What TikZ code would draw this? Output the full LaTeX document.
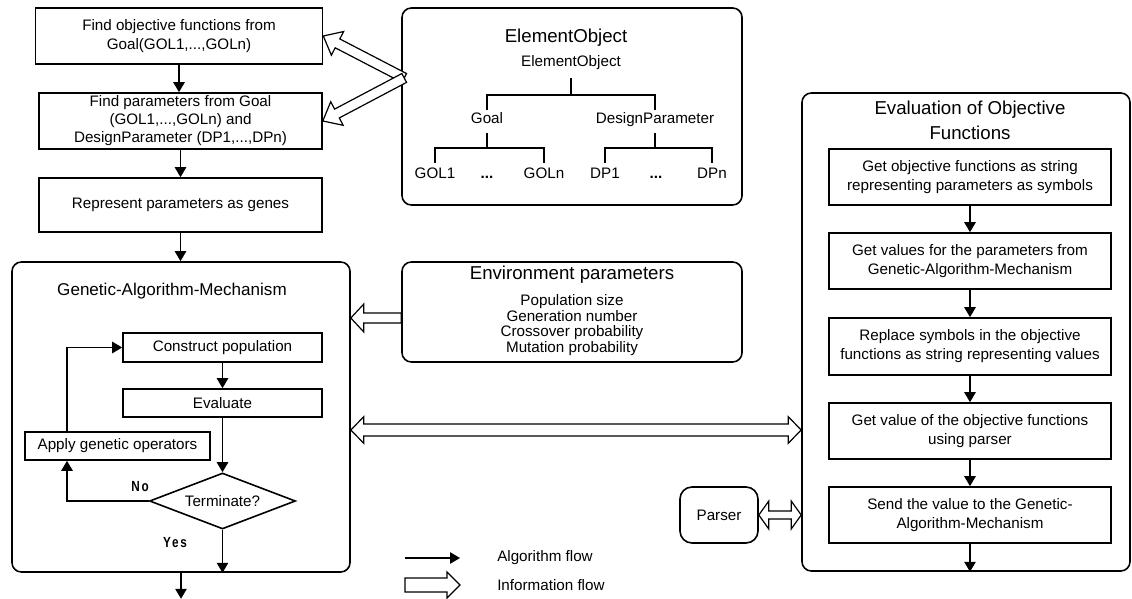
\documentclass[tikz,border=0pt]{standalone}
\usepackage{fontspec}
\setmainfont{Liberation Sans}
\newfontfamily\lblfont[FakeStretch=0.8,LetterSpace=12]{Liberation Sans}
\usetikzlibrary{arrows.meta,calc,shapes.geometric}

\newcommand{\hollowarrow}[5]{% start, tip, shaft half, head half, head length
  \coordinate (hA) at (#1);
  \coordinate (hT) at (#2);
  \coordinate (hH) at ($(hT)!#5!(hA)$);
  \draw[info] ($(hA)!#3!90:(hT)$) -- ($(hH)!#3!90:(hT)$) -- ($(hH)!#4!90:(hT)$) -- (hT)
    -- ($(hH)!#4!-90:(hT)$) -- ($(hH)!#3!-90:(hT)$) -- ($(hA)!#3!-90:(hT)$) -- cycle;
}
\newcommand{\hollowdarrow}[5]{% end, end, shaft half, head half, head length
  \coordinate (hA) at (#1);
  \coordinate (hT) at (#2);
  \coordinate (hH) at ($(hT)!#5!(hA)$);
  \coordinate (hG) at ($(hA)!#5!(hT)$);
  \draw[info] (hA) -- ($(hG)!#4!90:(hT)$) -- ($(hG)!#3!90:(hT)$) -- ($(hH)!#3!90:(hT)$)
    -- ($(hH)!#4!90:(hT)$) -- (hT) -- ($(hH)!#4!-90:(hT)$) -- ($(hH)!#3!-90:(hT)$)
    -- ($(hG)!#3!-90:(hT)$) -- ($(hG)!#4!-90:(hT)$) -- cycle;
}

\begin{document}
\begin{tikzpicture}[x=0.75pt,y=-0.75pt,
  sz/.style 2 args={minimum width=#1*0.75pt, minimum height=#2*0.75pt},
  body/.style={font=\fontsize{11.4}{14.3}\selectfont},
  box/.style={draw, line width=1.2pt, align=center, inner sep=0pt, body},
  rbox/.style={draw, line width=1.2pt, rounded corners=7pt, inner sep=0pt},
  ttl/.style={font=\fontsize{14}{18.75}\selectfont, align=center, inner sep=0pt},
  tnode/.style={body, inner sep=0pt, text height=8.2pt, text depth=2.4pt},
  tline/.style={line width=1.2pt},
  algo/.style={line width=1.2pt, -{Triangle[length=7.5pt,width=8.5pt]}},
  info/.style={draw, fill=white, line width=0.9pt, line join=miter},
  lbl/.style={font=\lblfont\bfseries\fontsize{11}{13}\selectfont, inner sep=0pt}
]
\useasboundingbox (0,0) rectangle (1132,599);

% ---- left column
\node[box, sz={287}{56}] (f1) at (179,36) {Find objective functions from\\Goal(GOL1,...,GOLn)};
\node[box, sz={283}{56}, font=\fontsize{11.4}{13.5}\selectfont] (f2) at (180.5,121) {Find parameters from Goal\\(GOL1,...,GOLn) and\\DesignParameter (DP1,...,DPn)};
\node[box, sz={283}{54}] (f3) at (180.5,205) {Represent parameters as genes};

\node[rbox, sz={338}{310}] (ga) at (181,417) {};
\node[ttl, font=\fontsize{12.8}{16}\selectfont] (gat) at (172,291) {Genetic-Algorithm-Mechanism};
\node[box, sz={199}{29}] (cp) at (222.5,347.5) {Construct population};
\node[box, sz={199}{28}] (ev) at (222.5,403) {Evaluate};
\node[box, sz={185}{28}] (ap) at (117.5,446) {Apply genetic operators};
\node[draw, diamond, line width=1.2pt, body, inner sep=0pt, aspect=2.6, sz={146}{56}] (tm) at (222.5,501) {Terminate?};
\node[lbl] (no) at (140,487) {No};
\node[lbl] (yes) at (175,543) {Yes};

\draw[algo] (f1.south) -- (f1.south |- f2.north);
\draw[algo] (f2.south) -- (f2.south |- f3.north);
\draw[algo] (f3.south) -- (f3.south |- ga.north);
\draw[algo] (cp.south) -- (ev.north);
\draw[algo] (ev.south) -- (ev.south |- tm.north);
\draw[algo] (tm.west) -| ([xshift=-37.875pt]ap.south);
\draw[algo] ([xshift=-37.875pt]ap.north) |- (cp.west);
\draw[algo] (tm.south) -- (tm.south |- ga.south);
\draw[algo] (ga.south) -- ++(0,26);

% ---- ElementObject
\node[rbox, sz={340}{197}] (eo) at (572,106.5) {};
\node[ttl] (eot) at (566,38) {ElementObject};
\node[tnode] (root) at (571,63) {ElementObject};
\node[tnode] (goal) at (487,120) {Goal};
\node[tnode] (dp) at (655,120) {DesignParameter};
\node[tnode] (g1) at (435,175) {GOL1};
\node[tnode] (gd) at (487,175) {\textbf{...}};
\node[tnode] (gn) at (544,175) {GOLn};
\node[tnode] (d1) at (605,175) {DP1};
\node[tnode] (dd) at (656,175) {\textbf{...}};
\node[tnode] (dn) at (712,175) {DPn};
\coordinate (j1) at (572,95);
\coordinate (j2) at (487,148);
\coordinate (j3) at (655,148);
\draw[tline] ([yshift=-6pt]root.south) -- (root.south |- j1);
\draw[tline] ([yshift=2.25pt]goal.north) |- (root.south |- j1) -| ([yshift=2.25pt]dp.north);
\draw[tline] ([yshift=-4.5pt]goal.south) -- (j2);
\draw[tline] ([yshift=3.75pt]g1.north) |- (j2) -| ([yshift=3.75pt]gn.north);
\draw[tline] ([yshift=-4.5pt]dp.south) -- (j3);
\draw[tline] ([yshift=3.75pt]d1.north) |- (j3) -| ([yshift=3.75pt]dn.north);

% ---- Environment parameters
\node[rbox, sz={340}{100}] (env) at (572,312) {};
\node[ttl] (envt) at (572,275) {Environment parameters};
\node[align=center, inner sep=0pt, font=\fontsize{11.4}{11.6}\selectfont] (envl) at (572,325) {Population size\\Generation number\\Crossover probability\\Mutation probability};

% ---- Evaluation of objective functions
\node[rbox, sz={328}{478}] (evb) at (966,332) {};
\node[ttl] (evt) at (970,120) {Evaluation of Objective\\Functions};
\node[box, sz={282}{56}] (e1) at (970,177) {Get objective functions as string\\representing parameters as symbols};
\node[box, sz={282}{56}] (e2) at (970,261) {Get values for the parameters from\\Genetic-Algorithm-Mechanism};
\node[box, sz={282}{57}] (e3) at (970,346.5) {Replace symbols in the objective\\functions as string representing values};
\node[box, sz={282}{56}] (e4) at (970,431) {Get value of the objective functions\\using parser};
\node[box, sz={282}{56}] (e5) at (970,515) {Send the value to the Genetic-\\Algorithm-Mechanism};
\draw[algo] (e1.south) -- (e2.north);
\draw[algo] (e2.south) -- (e3.north);
\draw[algo] (e3.south) -- (e4.north);
\draw[algo] (e4.south) -- (e5.north);
\draw[algo] (e5.south) -- (e5.south |- evb.south);

\node[draw, line width=1.2pt, rounded corners=9pt, body, sz={78}{56}, inner sep=0pt] (ps) at (719,515) {Parser};

% ---- information flows
\coordinate (envA) at ([yshift=-4.5pt]env.west);
\coordinate (envT) at (ga.east |- envA);
\hollowarrow{envA}{envT}{3.75pt}{10.5pt}{9.75pt}

\coordinate (gaE) at ([yshift=-9.75pt]ga.east);
\coordinate (evW) at (evb.west |- gaE);
\hollowdarrow{gaE}{evW}{4.5pt}{10pt}{9.75pt}

\coordinate (psE) at (ps.east);
\coordinate (psT) at (evb.west |- ps.east);
\hollowdarrow{psE}{psT}{3pt}{10.5pt}{7.5pt}

\coordinate (J) at ([xshift=2.25pt,yshift=21.4pt]eo.west);
\hollowarrow{J}{f1.east}{3.75pt}{10pt}{12pt}
\hollowarrow{J}{f2.east}{3.75pt}{10pt}{12pt}

% ---- legend
\coordinate (la1) at (405,558);
\coordinate (la2) at (460,558);
\draw[algo] (la1) -- (la2);
\node[body, anchor=west, inner sep=0pt] (lg1) at (497,558) {Algorithm flow};
\coordinate (lb1) at (405,585);
\coordinate (lb2) at (460,585);
\hollowarrow{lb1}{lb2}{5.25pt}{9.75pt}{9.75pt}
\node[body, anchor=west, inner sep=0pt] (lg2) at (497,585) {Information flow};
\end{tikzpicture}
\end{document}
